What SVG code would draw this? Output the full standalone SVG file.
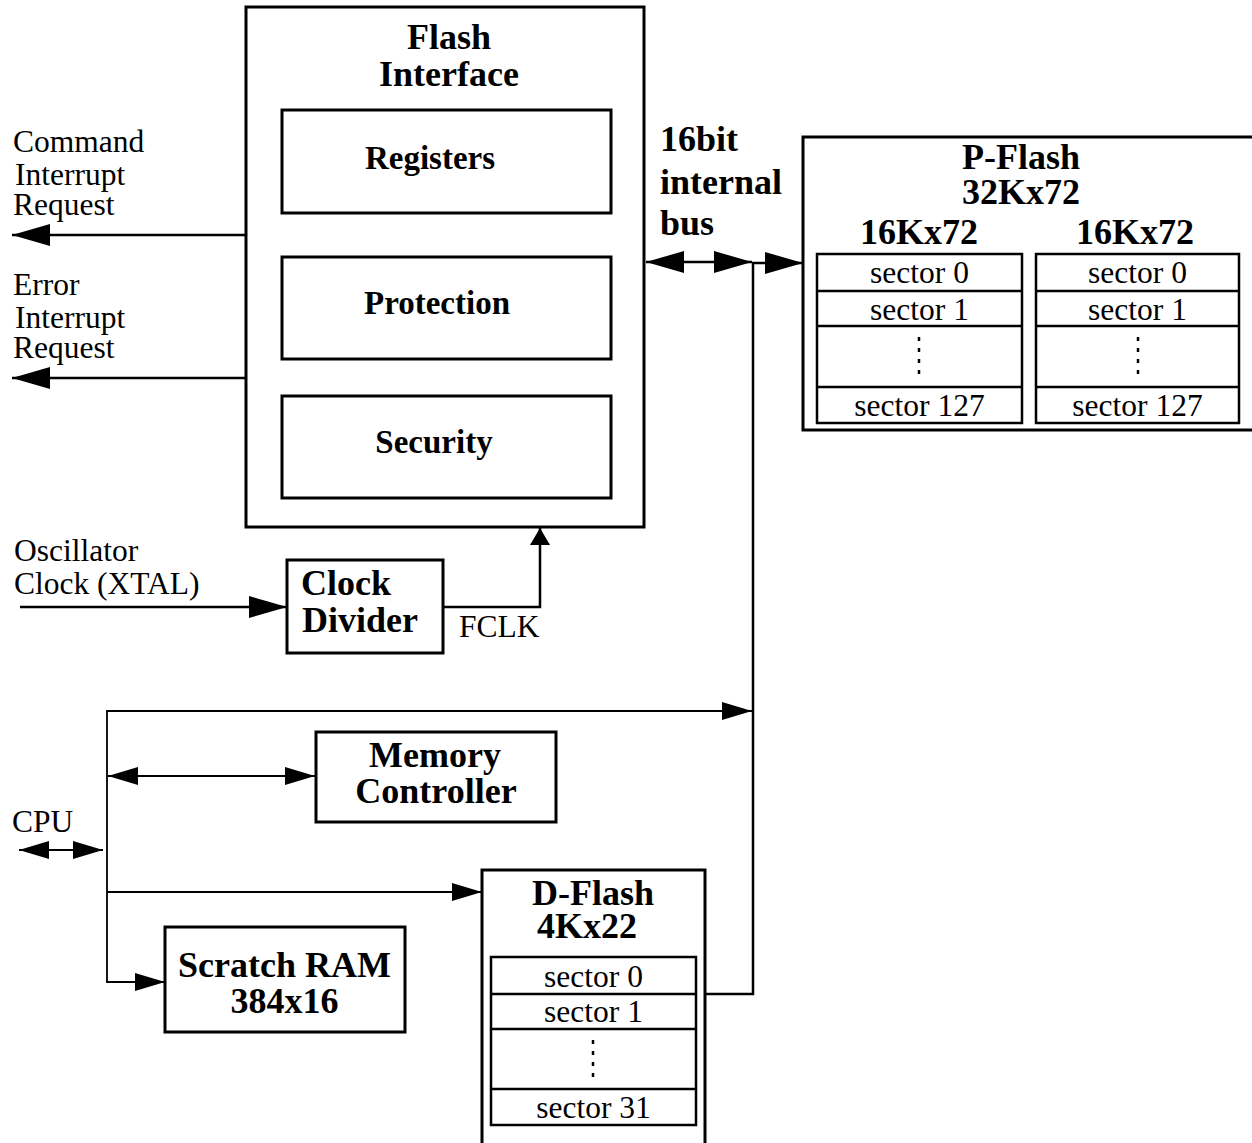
<svg xmlns="http://www.w3.org/2000/svg" width="1252" height="1143" viewBox="0 0 1252 1143">
<style>
.box{fill:#fff;stroke:#000;stroke-width:3}
.cell{fill:none;stroke:#000;stroke-width:2.5}
.thick{fill:none;stroke:#000;stroke-width:2.5}
.thin{fill:none;stroke:#000;stroke-width:1.8}
.dots{fill:none;stroke:#000;stroke-width:2.5;stroke-dasharray:4,7}
.b{font-family:"Liberation Serif","Times New Roman",serif;font-weight:bold;font-size:36px;fill:#000}
.bi{font-family:"Liberation Serif","Times New Roman",serif;font-weight:bold;font-size:33px;fill:#000}
.r{font-family:"Liberation Serif","Times New Roman",serif;font-size:31.5px;fill:#000}
.m{text-anchor:middle}
</style>
<defs>
<marker id="ah" markerUnits="userSpaceOnUse" markerWidth="38" markerHeight="22" refX="38" refY="11" orient="auto-start-reverse"><path d="M0,0 L38,11 L0,22 z" fill="#000"/></marker>
<marker id="am" markerUnits="userSpaceOnUse" markerWidth="30" markerHeight="18" refX="30" refY="9" orient="auto-start-reverse"><path d="M0,0 L30,9 L0,18 z" fill="#000"/></marker>
<marker id="as" markerUnits="userSpaceOnUse" markerWidth="17" markerHeight="20" refX="17" refY="10" orient="auto-start-reverse"><path d="M0,0 L17,10 L0,20 z" fill="#000"/></marker>
</defs>

<g id="connectors">
<line class="thick" x1="247" y1="235" x2="12" y2="235" marker-end="url(#ah)"/>
<line class="thick" x1="247" y1="378" x2="12" y2="378" marker-end="url(#ah)"/>
<line class="thick" x1="646" y1="262" x2="752" y2="262" marker-start="url(#ah)" marker-end="url(#ah)"/>
<polyline class="thick" points="705,994 753,994 753,263 803,263" marker-end="url(#ah)"/>
<line class="thick" x1="20" y1="607" x2="287" y2="607" marker-end="url(#ah)"/>
<polyline class="thick" points="443,607 540,607 540,528" marker-end="url(#as)"/>
<polyline class="thin" points="107,982 107,711 752,711" marker-end="url(#am)"/>
<line class="thin" x1="108" y1="776" x2="315" y2="776" marker-start="url(#am)" marker-end="url(#am)"/>
<line class="thin" x1="19" y1="850" x2="103" y2="850" marker-start="url(#am)" marker-end="url(#am)"/>
<line class="thin" x1="107" y1="892" x2="482" y2="892" marker-end="url(#am)"/>
<polyline class="thin" points="107,980 107,982 165,982" marker-end="url(#am)"/>
</g>

<g id="labels">
<text class="r" x="13" y="152">Command</text>
<text class="r" x="15" y="185">Interrupt</text>
<text class="r" x="13" y="215">Request</text>
<text class="r" x="13" y="295">Error</text>
<text class="r" x="15" y="328">Interrupt</text>
<text class="r" x="13" y="358">Request</text>
<text class="b" x="660" y="151">16bit</text>
<text class="b" x="660" y="194">internal</text>
<text class="b" x="660" y="235">bus</text>
<text class="r" x="14" y="561">Oscillator</text>
<text class="r" x="14" y="594">Clock (XTAL)</text>
<text class="r" x="459" y="637">FCLK</text>
<text class="r" x="12" y="832">CPU</text>
</g>

<g id="flash-interface">
<rect class="box" x="246" y="7" width="398" height="520"/>
<text class="b m" x="449" y="49">Flash</text>
<text class="b m" x="449" y="86">Interface</text>
</g>
<g id="registers">
<rect class="box" x="282" y="110" width="329" height="103"/>
<text class="bi m" x="430" y="169">Registers</text>
</g>
<g id="protection">
<rect class="box" x="282" y="257" width="329" height="102"/>
<text class="bi m" x="437" y="314">Protection</text>
</g>
<g id="security">
<rect class="box" x="282" y="396" width="329" height="102"/>
<text class="bi m" x="434" y="453">Security</text>
</g>

<g id="p-flash">
<rect class="box" x="803" y="137" width="460" height="293"/>
<text class="b m" x="1021" y="169">P-Flash</text>
<text class="b m" x="1021" y="204">32Kx72</text>
<text class="b m" x="919" y="244">16Kx72</text>
<text class="b m" x="1135" y="244">16Kx72</text>
<rect class="cell" x="817" y="254" width="205" height="169"/>
<line class="cell" x1="817" y1="291" x2="1022" y2="291"/>
<line class="cell" x1="817" y1="326" x2="1022" y2="326"/>
<line class="cell" x1="817" y1="387" x2="1022" y2="387"/>
<text class="r m" x="919.5" y="283">sector 0</text>
<text class="r m" x="919.5" y="320">sector 1</text>
<line class="dots" x1="919" y1="337" x2="919" y2="376"/>
<text class="r m" x="919.5" y="416">sector 127</text>
<rect class="cell" x="1036" y="254" width="203" height="169"/>
<line class="cell" x1="1036" y1="291" x2="1239" y2="291"/>
<line class="cell" x1="1036" y1="326" x2="1239" y2="326"/>
<line class="cell" x1="1036" y1="387" x2="1239" y2="387"/>
<text class="r m" x="1137.5" y="283">sector 0</text>
<text class="r m" x="1137.5" y="320">sector 1</text>
<line class="dots" x1="1138" y1="337" x2="1138" y2="376"/>
<text class="r m" x="1137.5" y="416">sector 127</text>
</g>

<g id="clock-divider">
<rect class="box" x="287" y="560" width="156" height="93"/>
<text class="b" x="301" y="595">Clock</text>
<text class="b" x="302" y="632">Divider</text>
</g>

<g id="memory-controller">
<rect class="box" x="316" y="732" width="240" height="90"/>
<text class="b m" x="435" y="767">Memory</text>
<text class="b m" x="436" y="803">Controller</text>
</g>

<g id="scratch-ram">
<rect class="box" x="165" y="927" width="240" height="105"/>
<text class="b m" x="284.5" y="977">Scratch RAM</text>
<text class="b m" x="284.5" y="1013">384x16</text>
</g>

<g id="d-flash">
<rect class="box" x="482" y="870" width="223" height="290"/>
<text class="b" x="532" y="905">D-Flash</text>
<text class="b" x="537" y="938">4Kx22</text>
<rect class="cell" x="491" y="957" width="205" height="168"/>
<line class="cell" x1="491" y1="994" x2="696" y2="994"/>
<line class="cell" x1="491" y1="1029" x2="696" y2="1029"/>
<line class="cell" x1="491" y1="1089" x2="696" y2="1089"/>
<text class="r m" x="593.5" y="987">sector 0</text>
<text class="r m" x="593.5" y="1022">sector 1</text>
<line class="dots" x1="593" y1="1040" x2="593" y2="1080"/>
<text class="r m" x="593.5" y="1118">sector 31</text>
</g>
</svg>
